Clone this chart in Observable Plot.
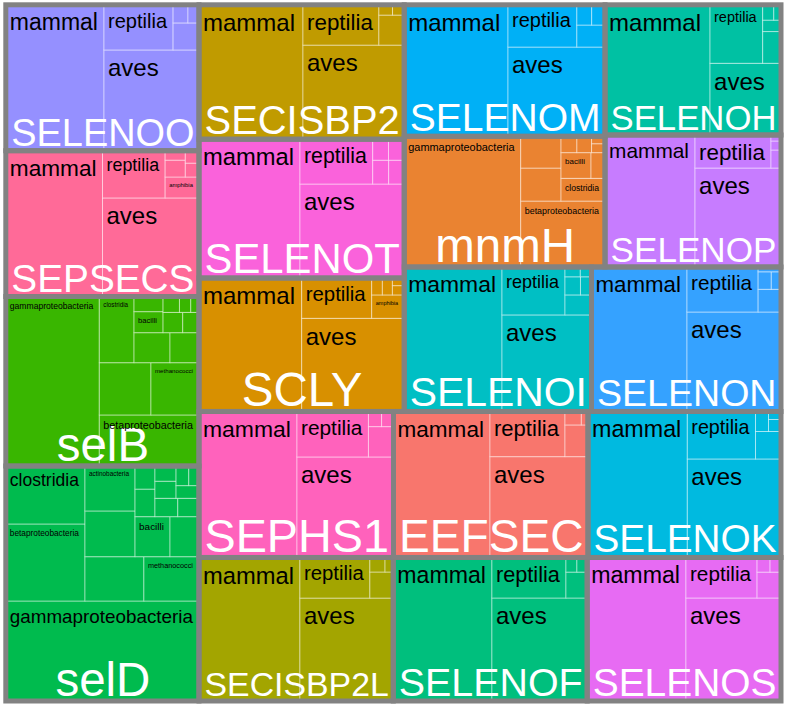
<!DOCTYPE html>
<html>
<head>
<meta charset="utf-8">
<script src="https://cdn.jsdelivr.net/npm/d3@7"></script>
<script src="https://cdn.jsdelivr.net/npm/@observablehq/plot@0.6"></script>
<style>
  html, body { margin: 0; padding: 0; background: #fff; }
  svg { display: block; }
</style>
</head>
<body>
<div id="chart"></div>
<script>
// ---------------- data ----------------
// genes, in the order the layout places them
const genes = ["selD","selB","SEPSECS","SELENOO","SECISBP2L","SELENOF","SELENOS","SEPHS1","EEFSEC","SELENOK",
               "SCLY","SELENOT","SECISBP2","SELENOI","SELENON","mnmH","SELENOM","SELENOP","SELENOH"];
// gene factor levels that have no tiles in this view (still take a colour slot)
const emptyLevels = ["selA"];

// clade names per group type
const vertebrateClades = ["mammal","aves","reptilia","amphibia","actinopteri","chondrichthyes","dipnoi","cladistia"];
const selDClades = ["gammaproteobacteria","betaproteobacteria","clostridia","","methanococci","","actinobacteria","bacilli",
                    "","","","","","","","","",""];
const selBClades = ["gammaproteobacteria","betaproteobacteria","","methanococci","clostridia","","","bacilli",
                    "","","","","",""];
const mnmHClades = ["gammaproteobacteria","betaproteobacteria","","","clostridia","bacilli","","","","",""];

// counts per clade (same order as the clade names)
const v_selD      = [1932, 610, 459, 261, 244, 229, 225, 140, 116, 55, 46, 42, 39, 36, 32, 29, 25, 20];
const v_selB      = [1585, 509, 270, 251, 230, 108, 87, 61, 44, 40, 33, 26, 18, 13];
const v_SEPSECS   = [1410, 951, 296, 71, 34, 19, 19, 17];
const v_SELENOO   = [1433, 957, 312, 70, 27, 20];
const v_SECISBP2L = [1449, 961, 284, 61, 22, 12];
const v_SELENOF   = [1416, 981, 300, 55, 16, 15];
const v_SELENOS   = [1418, 979, 288, 62, 19, 16];
const v_SEPHS1    = [1431, 970, 325, 76, 20, 18];
const v_EEFSEC    = [1409, 988, 339, 73, 22, 9];
const v_SELENOK   = [1450, 923, 324, 70, 26, 15, 10];
const v_SCLY      = [1371, 955, 282, 76, 18, 17, 11, 9];
const v_SELENOT   = [1402, 980, 326, 38, 37, 33, 33];
const v_SECISBP2  = [1398, 953, 306, 76, 14, 12];
const v_SELENOI   = [1413, 864, 302, 53, 28, 20, 15, 11];
const v_SELENON   = [1380, 935, 320, 52, 23, 17, 11];
const v_mnmH      = [1523, 556, 133, 128, 100, 77, 36, 26, 24, 12, 10];
const v_SELENOM   = [1365, 866, 291, 62, 30, 27];
const v_SELENOP   = [1188, 851, 251, 18, 9, 6];
const v_SELENOH   = [1367, 509, 308, 58, 21, 17, 11];

const cladeValues = [v_selD, v_selB, v_SEPSECS, v_SELENOO, v_SECISBP2L, v_SELENOF, v_SELENOS, v_SEPHS1, v_EEFSEC,
                     v_SELENOK, v_SCLY, v_SELENOT, v_SECISBP2, v_SELENOI, v_SELENON, v_mnmH, v_SELENOM, v_SELENOP, v_SELENOH];

// ---------------- layout ----------------
const W = 788, H = 709, mL = 5.8, mR = 7, mT = 4.8, mB = 8;
const pw = W - mL - mR, ph = H - mT - mB;
const FONT = '"Liberation Sans", Arial, Helvetica, sans-serif';

const namesFor = g => g === "selD" ? selDClades : g === "selB" ? selBClades : g === "mnmH" ? mnmHClades : vertebrateClades;
const rootData = {name: "root", children: genes.map((g, i) => ({
  name: g,
  children: cladeValues[i].map((v, j) => ({name: namesFor(g)[j], value: v}))
}))};
const root = d3.hierarchy(rootData).sum(d => d.children ? 0 : d.value);
d3.treemap().size([1, 1]).tile(d3.treemapSquarify.ratio(1))(root);
const geneNodes = root.children;
const leaves = root.leaves();

// colour palette: R/ggplot hue palette (polar LUV), gene levels in alphabetical order
function hclR(h, c, l) {
  const Xn = 0.95047, Yn = 1, Zn = 1.08883;
  const hr = h * Math.PI / 180;
  const U = c * Math.cos(hr), V = c * Math.sin(hr);
  const Y = l > 8 ? Yn * Math.pow((l + 16) / 116, 3) : Yn * l / 903.3;
  const d = Xn + 15 * Yn + 3 * Zn;
  const u = U / (13 * l) + 4 * Xn / d, v = V / (13 * l) + 9 * Yn / d;
  const X = 9 * Y * u / (4 * v);
  const Z = -X / 3 - 5 * Y + 3 * Y / v;
  const lin = [3.240479 * X - 1.537150 * Y - 0.498535 * Z,
               -0.969256 * X + 1.875992 * Y + 0.041556 * Z,
               0.055648 * X - 0.204043 * Y + 1.057311 * Z];
  const g = t => { t = t <= 0.0031308 ? 12.92 * t : 1.055 * Math.pow(t, 1 / 2.4) - 0.055; return Math.round(255 * Math.max(0, Math.min(1, t))); };
  const [r, gg, b] = lin.map(g);
  return d3.rgb(r, gg, b).formatHex();
}
const levels = genes.concat(emptyLevels).sort((a, b) => a.toLowerCase().localeCompare(b.toLowerCase()));
const palette = levels.map((_, i) => hclR(15 + i * 360 / levels.length, 100, 65));

// label fitting
const ctx = document.createElement("canvas").getContext("2d");
ctx.font = `100px ${FONT}`;
const em = s => ctx.measureText(s).width / 100;

const leafLabels = leaves.filter(d => d.data.name).map(d => {
  const w = (d.x1 - d.x0) * pw, h = (d.y1 - d.y0) * ph;
  const fs = Math.min(24, (w - 10) / em(d.data.name), h - 6);
  return {name: d.data.name, fs, x: d.x0, y: d.y1 - (4 + 0.2 * fs) / ph};
}).filter(d => d.fs >= 5);

const geneLabels = geneNodes.map(d => {
  const w = (d.x1 - d.x0) * pw;
  return {name: d.data.name, fs: Math.min(47.5, (w - 10) / em(d.data.name)), x: (d.x0 + d.x1) / 2, y: d.y0};
});

const chart = Plot.plot({
  width: W, height: H,
  marginLeft: mL, marginRight: mR, marginTop: mT, marginBottom: mB,
  x: {domain: [0, 1], axis: null},
  y: {domain: [0, 1], axis: null},
  color: {type: "ordinal", domain: levels, range: palette},
  style: {fontFamily: FONT, background: "white"},
  marks: [
    Plot.rect(leaves, {x1: "x0", x2: "x1", y1: "y0", y2: "y1", fill: d => d.parent.data.name,
                       stroke: "white", strokeOpacity: 0.45, strokeWidth: 1}),
    Plot.rect(geneNodes, {x1: "x0", x2: "x1", y1: "y0", y2: "y1", fill: "none",
                          stroke: "#828282", strokeWidth: 5}),
    Plot.text(geneLabels, {x: "x", y: "y", text: "name", fontSize: d => d.fs, fill: "white",
                           textAnchor: "middle", lineAnchor: "bottom", dy: -5.5}),
    Plot.text(leafLabels, {x: "x", y: "y", text: "name", fontSize: d => d.fs, fill: "black",
                           textAnchor: "start", lineAnchor: "top", dx: 3.5})
  ]
});
document.getElementById("chart").appendChild(chart);
</script>
</body>
</html>
